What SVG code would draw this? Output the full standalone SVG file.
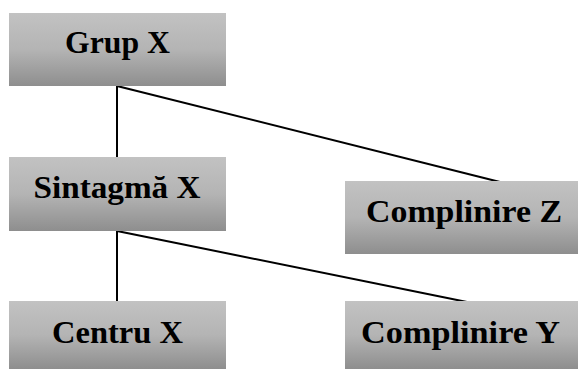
<svg xmlns="http://www.w3.org/2000/svg" width="582" height="369" viewBox="0 0 582 369">
<defs>
<linearGradient id="g" x1="0" y1="0" x2="0" y2="1">
<stop offset="0" stop-color="#c2c2c2"/>
<stop offset="0.5" stop-color="#b4b4b4"/>
<stop offset="1" stop-color="#8e8e8e"/>
</linearGradient>
<style>
.box{fill:url(#g);}
.t{font-family:"Liberation Serif","Times New Roman",serif;font-weight:bold;font-size:31px;fill:#000;text-anchor:middle;}
.c{stroke:#000;stroke-width:2;fill:none;}
</style>
</defs>
<g id="connectors">
<line class="c" x1="117" y1="86" x2="117" y2="157"/>
<line class="c" x1="117" y1="86" x2="500" y2="182"/>
<line class="c" x1="117" y1="231" x2="117" y2="301"/>
<line class="c" x1="117" y1="231" x2="467" y2="302"/>
</g>
<g id="grup-x">
<rect class="box" x="9" y="13" width="217" height="73"/>
<text class="t" x="117.5" y="53" textLength="105" lengthAdjust="spacingAndGlyphs">Grup X</text>
</g>
<g id="sintagma-x">
<rect class="box" x="9" y="157" width="217" height="74"/>
<text class="t" x="117" y="198" textLength="167" lengthAdjust="spacingAndGlyphs">Sintagmă X</text>
</g>
<g id="complinire-z">
<rect class="box" x="345" y="181" width="233" height="73"/>
<text class="t" x="464" y="222" textLength="196" lengthAdjust="spacingAndGlyphs">Complinire Z</text>
</g>
<g id="centru-x">
<rect class="box" x="9" y="301" width="217" height="68"/>
<text class="t" x="117.5" y="343" textLength="131" lengthAdjust="spacingAndGlyphs">Centru X</text>
</g>
<g id="complinire-y">
<rect class="box" x="345" y="301" width="233" height="68"/>
<text class="t" x="460.5" y="343" textLength="199" lengthAdjust="spacingAndGlyphs">Complinire Y</text>
</g>
</svg>
